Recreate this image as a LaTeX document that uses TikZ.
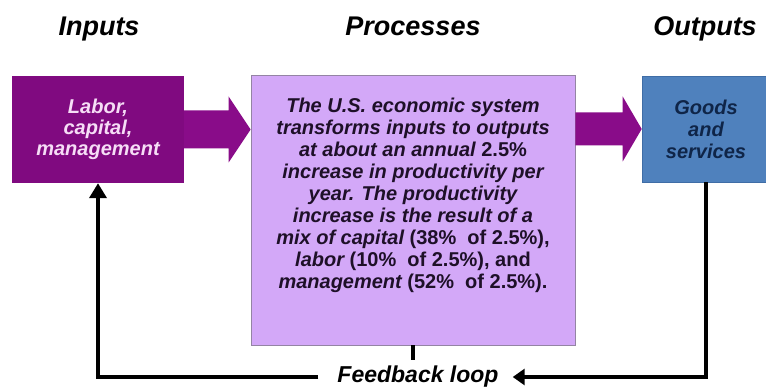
\documentclass[tikz,border=0pt]{standalone}
\usepackage{fontspec}
\setmainfont{Liberation Sans}
\usetikzlibrary{calc,arrows.meta}

\definecolor{inpurple}{HTML}{800A80}
\definecolor{arrowpurple}{HTML}{890C89}
\definecolor{intext}{HTML}{F6DDF6}
\definecolor{procfill}{HTML}{D3A8F8}
\definecolor{procline}{HTML}{9484A4}
\definecolor{proctext}{HTML}{1E1028}
\definecolor{outfill}{HTML}{4F81BD}
\definecolor{outline}{HTML}{3F6DA6}
\definecolor{outtext}{HTML}{0F2548}

\newcommand{\uprt}[1]{{\upshape #1}}

\begin{document}
\begin{tikzpicture}[x=1pt,y=-1pt,
  heading/.style={font=\fontsize{27}{30}\selectfont\bfseries\itshape, anchor=base, inner sep=0pt},
  inbox/.style={fill=inpurple, draw=none, minimum width=172pt, minimum height=107pt, inner sep=0pt,
    text=intext, font=\fontsize{20}{21}\selectfont\bfseries\itshape, align=center},
  procbox/.style={fill=procfill, draw=procline, line width=0.8pt, minimum width=324pt, minimum height=270pt, inner sep=0pt},
  proclabel/.style={text=proctext, font=\fontsize{20}{22}\selectfont\bfseries\itshape, align=center, inner sep=0pt},
  outbox/.style={fill=outfill, draw=outline, line width=0.6pt, minimum width=128pt, minimum height=106pt, inner sep=0pt,
    text=outtext, font=\fontsize{20}{22}\selectfont\bfseries\itshape, align=center},
  fblabel/.style={font=\fontsize{23}{26}\selectfont\bfseries\itshape, inner sep=0pt, text height=15pt, text depth=5pt, anchor=base},
  fbline/.style={line width=4.5pt, draw=black, line join=miter},
]
\useasboundingbox (0,0) rectangle (766,387);

% column headings
\node[heading] (hin)   at (99,36)  {Inputs};
\node[heading] (hproc) at (413,36) {Processes};
\node[heading] (hout)  at (705,36) {Outputs};

% the three blocks
\node[inbox] (inp) at (98,129.5) {Labor,\\capital,\\management};
\node[procbox] (proc) at (413,210) {};
\node[proclabel, anchor=north] (proctxt) at (413,98) {%
  The U.S. economic system\\
  transforms inputs to outputs\\
  at about an annual \uprt{2.5\%}\\
  increase in productivity per\\
  year. The productivity\\
  increase is the result of a\\
  mix of capital \uprt{(38\%~ of 2.5\%),}\\
  labor \uprt{(10\%~ of 2.5\%), and}\\
  management \uprt{(52\%~ of 2.5\%).}};
\node[outbox] (out) at (706,129) {Goods\\and\\services};

% block arrows between the blocks
\fill[arrowpurple] let \p1=(inp.east), \p2=(proc.west) in
  (\x1,\y1+19pt) -- (\x2-22pt,\y1+19pt) -- (\x2-22pt,\y1+33pt) -- (\x2,\y1)
  -- (\x2-22pt,\y1-33pt) -- (\x2-22pt,\y1-19pt) -- (\x1,\y1-19pt) -- cycle;
\fill[arrowpurple] let \p1=(proc.east), \p2=(out.west) in
  (\x1,\y2+16.5pt) -- (\x2-19pt,\y2+16.5pt) -- (\x2-19pt,\y2+32.5pt) -- (\x2,\y2)
  -- (\x2-19pt,\y2-32.5pt) -- (\x2-19pt,\y2-16.5pt) -- (\x1,\y2-16.5pt) -- cycle;

% feedback loop
\node[fblabel] (fb) at (418,382) {Feedback loop};
\draw[fbline] (proc.south) -- ++(0,15);
\draw[fbline, -{Triangle[length=12pt,width=16pt]}] (out.south) |- ([xshift=14pt]fb.east);
\draw[fbline, -{Triangle[length=15pt,width=17pt]}] ([xshift=-19pt]fb.west) -| (inp.south);
\end{tikzpicture}
\end{document}
